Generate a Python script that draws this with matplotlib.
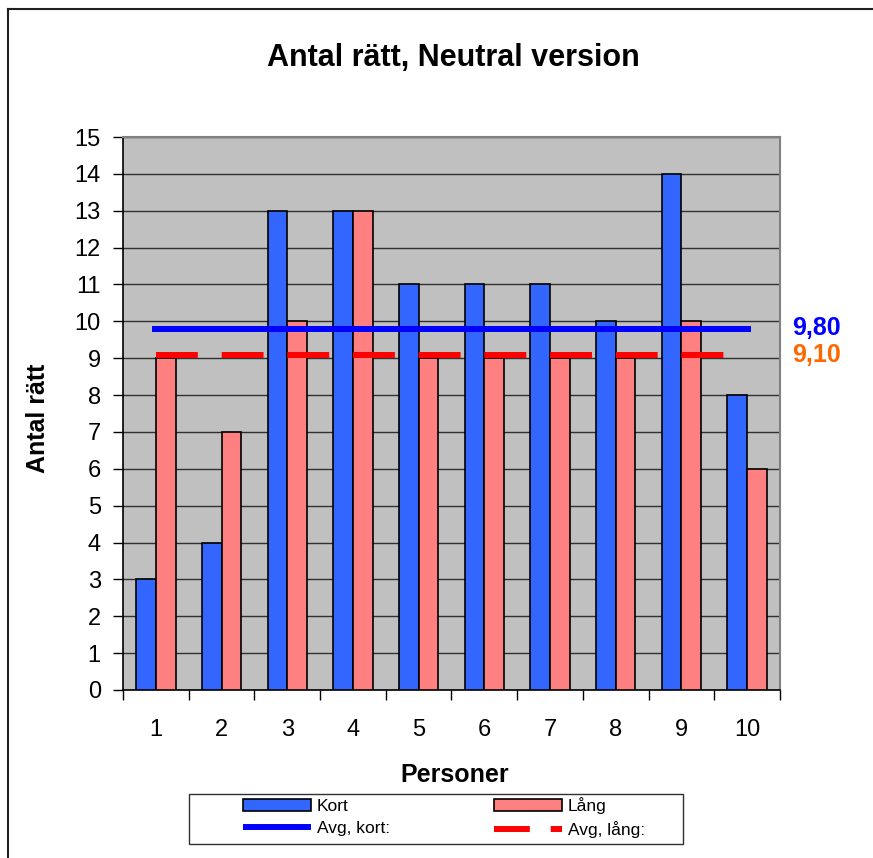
import numpy as np
import matplotlib
matplotlib.use("Agg")
import matplotlib.pyplot as plt
from matplotlib.lines import Line2D
from matplotlib.patches import Rectangle

plt.rcParams["font.family"] = ["Liberation Sans", "DejaVu Sans"]

# data
personer = [1, 2, 3, 4, 5, 6, 7, 8, 9, 10]
kort = [3, 4, 13, 13, 11, 11, 11, 10, 14, 8]
lang = [9, 7, 10, 13, 9, 9, 9, 9, 10, 6]
avg_kort = np.mean(kort)
avg_lang = np.mean(lang)

W, H = 873, 858
fig = plt.figure(figsize=(W / 100, H / 100), dpi=100)
fig.patch.set_facecolor("white")

# axes position in pixels: left 123, right 780, top 137, bottom 690
ax = fig.add_axes([123 / W, 1 - 690 / H, (780 - 123) / W, (690 - 137) / H])
ax.set_facecolor("#C0C0C0")

x = np.array(personer)
bw = 0.3
b1 = ax.bar(x - bw / 2, kort, bw, color="#3366FF", edgecolor="black", linewidth=1.2,
            zorder=3)
b2 = ax.bar(x + bw / 2, lang, bw, color="#FF8080", edgecolor="black", linewidth=1.2,
            zorder=3)

# medelvärden
l1, = ax.plot([0.94, 10.06], [avg_kort, avg_kort], color="#0000FF", lw=4.3,
              solid_capstyle="butt", zorder=4)
ax.plot([1.0, 10.0], [avg_lang, avg_lang], color="#FF0000", lw=4.3,
        dashes=(7.0, 4.0), dash_capstyle="butt", zorder=4)
# egen streckad symbol för förklaringen
l2 = Line2D([], [], color="#FF0000", lw=4.3, dashes=(6.0, 3.5), dash_capstyle="butt")

ax.set_xlim(0.5, 10.5)
ax.set_ylim(0, 15)
ax.set_yticks(range(0, 16))
ax.set_xticks(x)
ax.set_xticks(np.arange(0.5, 11, 1), minor=True)
ax.tick_params(axis="x", which="major", length=0, pad=21, labelsize=17)
ax.tick_params(axis="x", which="minor", length=7, width=1, direction="out")
ax.tick_params(axis="y", length=7, width=1, direction="out", pad=9, labelsize=17)
ax.grid(axis="y", color="#303030", lw=1, zorder=1)
ax.set_axisbelow(True)

for s in ["top", "right"]:
    ax.spines[s].set_color("#808080")
    ax.spines[s].set_linewidth(1.5)
for s in ["left", "bottom"]:
    ax.spines[s].set_color("black")
    ax.spines[s].set_linewidth(1.2)

fig.text(453 / W, 1 - 58 / H, "Antal rätt, Neutral version", ha="center",
         va="center", fontsize=22, fontweight="bold")
fig.text(455 / W, 1 - 775 / H, "Personer", ha="center", va="center",
         fontsize=18, fontweight="bold")
fig.text(38 / W, 1 - 418 / H, "Antal rätt", ha="center", va="center",
         rotation=90, fontsize=18, fontweight="bold")

fig.text(792 / W, 1 - 328 / H, f"{avg_kort:.2f}".replace(".", ","), ha="left",
         va="center", fontsize=18, fontweight="bold", color="#0000FF")
fig.text(792 / W, 1 - 355 / H, f"{avg_lang:.2f}".replace(".", ","), ha="left",
         va="center", fontsize=18, fontweight="bold", color="#FF6600")

# legend
fig.legend([b1, l1, b2, l2], ["Kort", "Avg, kort:", "Lång", "Avg, lång:"], ncol=2,
           loc="upper left", bbox_to_anchor=(243 / W, 1 - 797 / H),
           frameon=False, fontsize=12.5, handlelength=3.9, handleheight=0.65,
           handletextpad=0.35, columnspacing=6.0, labelspacing=0.4,
           borderpad=0, borderaxespad=0)
fig.add_artist(Rectangle((189 / W, 1 - 844 / H), (683 - 189) / W, 50 / H,
                         transform=fig.transFigure, fill=False,
                         edgecolor="#303030", lw=1))

# ram runt diagrammet
fig.add_artist(Line2D([8 / W, 8 / W], [0, 1 - 9 / H], transform=fig.transFigure,
                      color="#202020", lw=1.5))
fig.add_artist(Line2D([8 / W, 1], [1 - 9 / H, 1 - 9 / H], transform=fig.transFigure,
                      color="#202020", lw=1.5))

fig.savefig("out.png", dpi=100)
